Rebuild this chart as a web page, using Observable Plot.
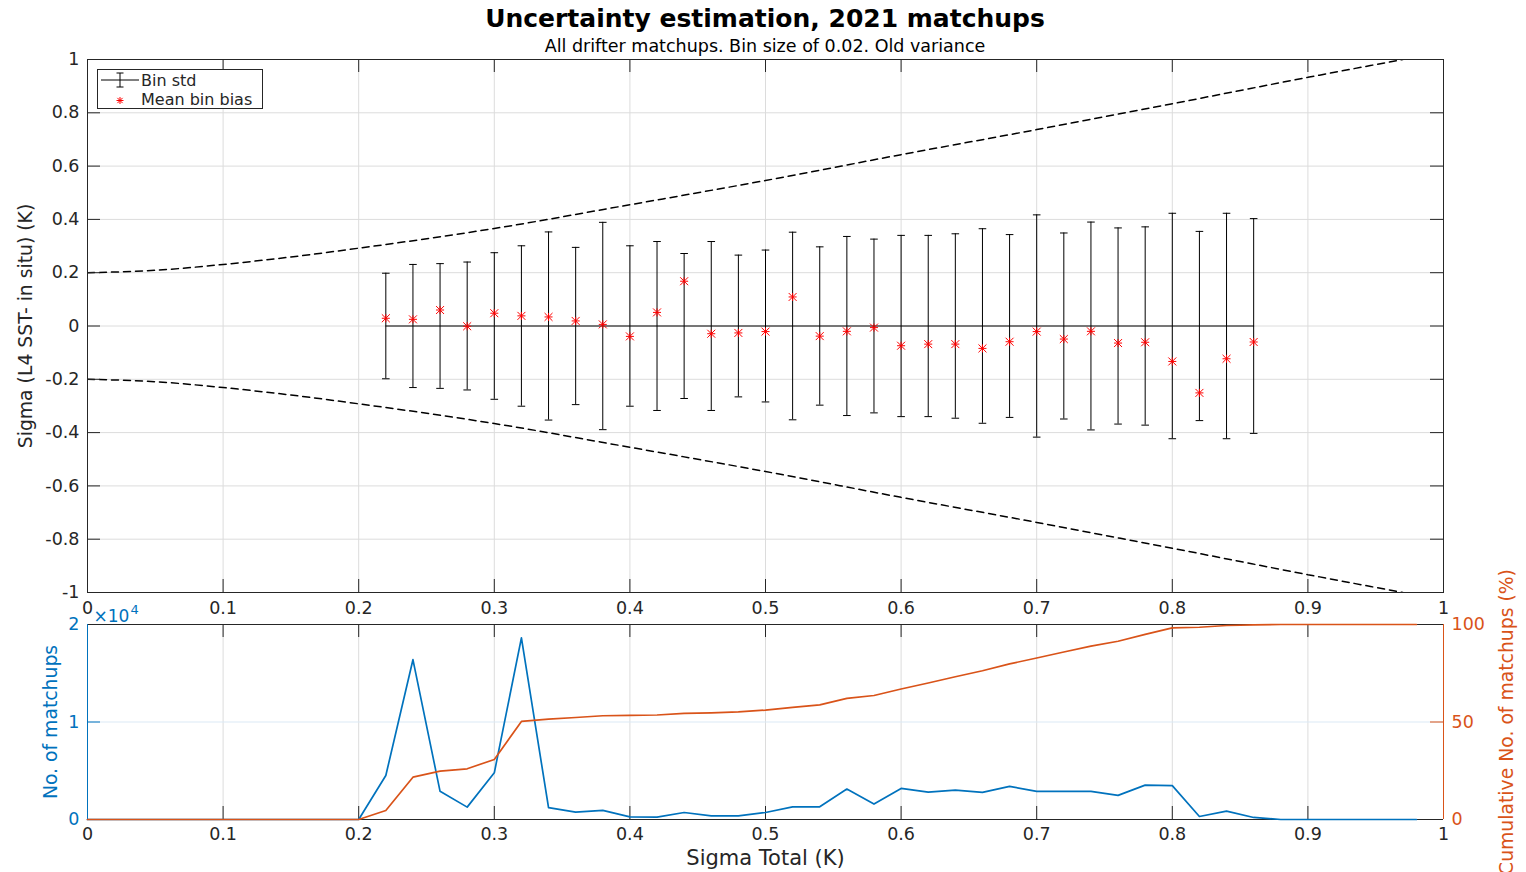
<!DOCTYPE html>
<html>
<head>
<meta charset="utf-8">
<script src="https://cdn.jsdelivr.net/npm/d3@7"></script>
<script src="https://cdn.jsdelivr.net/npm/@observablehq/plot@0.6"></script>
<style>
  html, body { margin: 0; padding: 0; background: #fff; overflow: hidden; }
  body { width: 1526px; height: 872px; position: relative; font-family: "DejaVu Sans", sans-serif; }
  .abs { position: absolute; }
  #title { left: 0; width: 1530px; top: 6px; text-align: center; font-weight: bold; font-size: 25px; color: #000; line-height: 1; }
  #subtitle { left: 0; width: 1530px; top: 38px; text-align: center; font-size: 17.5px; color: #000; line-height: 1; }
  #top, #bottom { left: 0; }
  #top { top: 0; }
  #bottom { top: 596px; }
  #legend { left: 97px; top: 69px; }
</style>
</head>
<body>
<div id="top" class="abs"></div>
<div id="bottom" class="abs"></div>
<div id="title" class="abs">Uncertainty estimation, 2021 matchups</div>
<div id="subtitle" class="abs">All drifter matchups. Bin size of 0.02. Old variance</div>
<div id="legend" class="abs"></div>
<script>
// ---------- data ----------
const xTicks = [0, 0.1, 0.2, 0.3, 0.4, 0.5, 0.6, 0.7, 0.8, 0.9, 1];
const yTicksTop = [-1, -0.8, -0.6, -0.4, -0.2, 0, 0.2, 0.4, 0.6, 0.8, 1];
const yTicksCount = [0, 10000, 20000];

// bins of sigma total (K)
const binX = [0.22, 0.24, 0.26, 0.28, 0.30, 0.32, 0.34, 0.36, 0.38, 0.40, 0.42, 0.44, 0.46, 0.48, 0.50, 0.52,
  0.54, 0.56, 0.58, 0.60, 0.62, 0.64, 0.66, 0.68, 0.70, 0.72, 0.74, 0.76, 0.78, 0.80, 0.82, 0.84, 0.86];
const binStd = [0.198, 0.231, 0.234, 0.240, 0.275, 0.301, 0.353, 0.295, 0.389, 0.301, 0.317, 0.272, 0.317, 0.266, 0.285, 0.352,
  0.297, 0.336, 0.326, 0.340, 0.340, 0.346, 0.365, 0.343, 0.417, 0.349, 0.390, 0.368, 0.372, 0.423, 0.355, 0.423, 0.403];
const binBias = [0.029, 0.025, 0.060, -0.001, 0.048, 0.038, 0.034, 0.019, 0.006, -0.039, 0.051, 0.168, -0.029, -0.026, -0.021, 0.109,
  -0.038, -0.020, -0.006, -0.074, -0.068, -0.068, -0.084, -0.059, -0.021, -0.049, -0.020, -0.064, -0.061, -0.133, -0.251, -0.123, -0.060];

// dashed envelope
const envX = [0, 0.05, 0.1, 0.15, 0.2, 0.3, 0.4, 0.5, 0.6, 0.7, 0.8, 0.9, 0.97];
const envY = [0.200, 0.209, 0.231, 0.259, 0.292, 0.366, 0.455, 0.546, 0.643, 0.737, 0.834, 0.933, 1.000];

// histogram
const histX = [0, 0.02, 0.04, 0.06, 0.08, 0.10, 0.12, 0.14, 0.16, 0.18, 0.20, 0.22, 0.24, 0.26, 0.28, 0.30, 0.32, 0.34, 0.36, 0.38,
  0.40, 0.42, 0.44, 0.46, 0.48, 0.50, 0.52, 0.54, 0.56, 0.58, 0.60, 0.62, 0.64, 0.66, 0.68, 0.70, 0.72, 0.74, 0.76, 0.78,
  0.80, 0.82, 0.84, 0.86, 0.88, 0.90, 0.92, 0.94, 0.96, 0.98];
const histCount = [0, 0, 0, 0, 0, 0, 0, 0, 0, 0, 0, 4510, 16390, 2890, 1270, 4790, 18620, 1210, 760, 930,
  270, 240, 720, 380, 380, 720, 1300, 1300, 3120, 1580, 3190, 2810, 3020, 2780, 3400, 2880, 2880, 2880, 2470, 3530,
  3470, 310, 860, 210, 0, 0, 0, 0, 0, 0];
const histCum = [0, 0, 0, 0, 0, 0, 0, 0, 0, 0, 0, 4.6, 21.7, 24.8, 26.0, 30.8, 50.3, 51.5, 52.3, 53.2,
  53.4, 53.6, 54.4, 54.7, 55.2, 56.1, 57.5, 58.8, 62.1, 63.6, 66.9, 70.0, 73.2, 76.3, 79.8, 82.8, 85.9, 88.9, 91.4, 94.9,
  98.3, 98.6, 99.5, 99.8, 100, 100, 100, 100, 100, 100];

// ---------- tables ----------
const bins = binX.map((x, i) => ({x, std: binStd[i], bias: binBias[i]}));
const env = envX.map((x, i) => ({x, y: envY[i]}));
const hist = histX.map((x, i) => ({x, count: histCount[i], cum: histCum[i]}));

const INK = "#262626", BLUE = "#0072BD", ORANGE = "#D95319", GRID = "#dcdcdc";
const FONT = "DejaVu Sans";
const W = 1526, ML = 87, MR = 83;
const innerW = W - ML - MR;
const capHalf = 0.0028;
const fmt1 = d => String(Math.round(d * 10) / 10);

// ---------- top chart ----------
const topH = 625, topMT = 59, topMB = 33;
const topInnerH = topH - topMT - topMB;
const topPlot = Plot.plot({
  width: W, height: topH,
  marginTop: topMT, marginBottom: topMB, marginLeft: ML, marginRight: MR,
  style: {background: "none", overflow: "visible", fontFamily: FONT},
  x: {domain: [0, 1]},
  y: {domain: [-1, 1]},
  marks: [
    Plot.ruleX(xTicks.slice(1, -1), {x: d => d, stroke: GRID}),
    Plot.ruleY(yTicksTop.slice(1, -1), {y: d => d, stroke: GRID}),
    Plot.line(env, {x: "x", y: "y", stroke: "#000", strokeWidth: 1.5, strokeDasharray: "7,5", curve: "monotone-x", clip: true}),
    Plot.line(env, {x: "x", y: d => -d.y, stroke: "#000", strokeWidth: 1.5, strokeDasharray: "7,5", curve: "monotone-x", clip: true}),
    Plot.line(bins, {x: "x", y: () => 0, stroke: "#000", strokeWidth: 1}),
    Plot.ruleX(bins, {x: "x", y1: d => -d.std, y2: d => d.std, stroke: "#000", strokeWidth: 1}),
    Plot.link(bins, {x1: d => d.x - capHalf, x2: d => d.x + capHalf, y1: "std", y2: "std", stroke: "#000", strokeWidth: 1}),
    Plot.link(bins, {x1: d => d.x - capHalf, x2: d => d.x + capHalf, y1: d => -d.std, y2: d => -d.std, stroke: "#000", strokeWidth: 1}),
    Plot.dot(bins, {x: "x", y: "bias", symbol: "plus", r: 2.7, stroke: "#ff0000", strokeWidth: 1}),
    Plot.dot(bins, {x: "x", y: "bias", symbol: "times", r: 3.7, stroke: "#ff0000", strokeWidth: 1}),
    // inward ticks
    Plot.tickX(xTicks, {x: d => d, insetTop: topInnerH - 13, stroke: INK}),
    Plot.tickX(xTicks, {x: d => d, insetBottom: topInnerH - 13, stroke: INK}),
    Plot.tickY(yTicksTop, {y: d => d, insetRight: innerW - 13, stroke: INK}),
    Plot.tickY(yTicksTop, {y: d => d, insetLeft: innerW - 13, stroke: INK}),
    Plot.frame({stroke: INK}),
    Plot.axisX({ticks: xTicks, tickSize: 0, tickPadding: 9, fontSize: 17.5, tickFormat: fmt1, color: INK, label: null}),
    Plot.axisY({ticks: yTicksTop, tickSize: 0, tickPadding: 8, fontSize: 17.5, tickFormat: fmt1, color: INK, label: null}),
    Plot.axisY({ticks: [], tickSize: 0, label: "Sigma (L4 SST- in situ) (K)", labelAnchor: "center", labelOffset: 69, labelArrow: "none", fontSize: 18.8, color: INK})
  ]
});
document.getElementById("top").appendChild(topPlot);

// ---------- bottom chart ----------
const botH = 276, botMT = 28, botMB = 53;
const botInnerH = botH - botMT - botMB;
const pctToCount = 200; // 100 % <-> 2x10^4 on the shared axis
const botPlot = Plot.plot({
  width: W, height: botH,
  marginTop: botMT, marginBottom: botMB, marginLeft: ML, marginRight: MR,
  style: {background: "none", overflow: "visible", fontFamily: FONT},
  x: {domain: [0, 1]},
  y: {domain: [0, 20000]},
  marks: [
    Plot.ruleX(xTicks.slice(1, -1), {x: d => d, stroke: GRID}),
    Plot.ruleY([10000], {y: d => d, stroke: "#dbe9f5"}),
    Plot.tickX(xTicks, {x: d => d, insetTop: botInnerH - 13, stroke: INK}),
    Plot.tickX(xTicks, {x: d => d, insetBottom: botInnerH - 13, stroke: INK}),
    Plot.tickY(yTicksCount, {y: d => d, insetRight: innerW - 13, stroke: BLUE}),
    Plot.tickY(yTicksCount, {y: d => d, insetLeft: innerW - 13, stroke: ORANGE}),
    Plot.ruleY([0, 20000], {y: d => d, stroke: INK}),
    Plot.ruleX([0], {x: d => d, stroke: BLUE}),
    Plot.ruleX([1], {x: d => d, stroke: ORANGE}),
    Plot.line(hist, {x: "x", y: "count", stroke: BLUE, strokeWidth: 1.7}),
    Plot.line(hist, {x: "x", y: d => d.cum * pctToCount, stroke: ORANGE, strokeWidth: 1.7}),
    Plot.axisX({ticks: xTicks, tickSize: 0, tickPadding: 8, fontSize: 17.5, tickFormat: fmt1, color: INK, label: null}),
    Plot.axisX({ticks: [], tickSize: 0, label: "Sigma Total (K)", labelAnchor: "center", labelOffset: 45, labelArrow: "none", fontSize: 21, color: INK}),
    Plot.axisY({ticks: yTicksCount, tickSize: 0, tickPadding: 8, fontSize: 17.5, tickFormat: d => String(d / 10000), color: BLUE, label: null}),
    Plot.axisY({ticks: [], tickSize: 0, label: "No. of matchups", labelAnchor: "center", labelOffset: 44, labelArrow: "none", fontSize: 18.8, color: BLUE}),
    Plot.axisY({anchor: "right", ticks: yTicksCount, tickSize: 0, tickPadding: 8, fontSize: 17.5, tickFormat: d => String(d / pctToCount), color: ORANGE, label: null}),
    Plot.axisY({anchor: "right", ticks: [], tickSize: 0, label: "Cumulative No. of matchups (%)", labelAnchor: "center", labelOffset: 69, labelArrow: "none", fontSize: 18.8, color: ORANGE}),
    Plot.text(["×10"], {text: d => d, frameAnchor: "top-left", textAnchor: "start", lineAnchor: "bottom", dx: 6, dy: -3, fontSize: 17, fill: BLUE}),
    Plot.text(["4"], {text: d => d, frameAnchor: "top-left", textAnchor: "start", lineAnchor: "bottom", dx: 43, dy: -11, fontSize: 13, fill: BLUE})
  ]
});
document.getElementById("bottom").appendChild(botPlot);

// ---------- legend ----------
const ns = "http://www.w3.org/2000/svg";
const leg = document.createElementNS(ns, "svg");
leg.setAttribute("width", 167); leg.setAttribute("height", 40);
leg.innerHTML = `
  <rect x="0.5" y="0.5" width="165" height="39" fill="#fff" stroke="${INK}" stroke-width="1"/>
  <line x1="4" y1="11" x2="42" y2="11" stroke="#000"/>
  <line x1="23" y1="4" x2="23" y2="18" stroke="#000"/>
  <line x1="19.5" y1="4" x2="26.5" y2="4" stroke="#000"/>
  <line x1="19.5" y1="18" x2="26.5" y2="18" stroke="#000"/>
  <text x="44" y="16.5" font-family="${FONT}" font-size="16" fill="${INK}">Bin std</text>
  <g stroke="#ff0000" stroke-width="1" transform="translate(23,31.5)">
    <line x1="-3.5" y1="0" x2="3.5" y2="0"/><line x1="0" y1="-3.5" x2="0" y2="3.5"/>
    <line x1="-2.6" y1="-2.6" x2="2.6" y2="2.6"/><line x1="-2.6" y1="2.6" x2="2.6" y2="-2.6"/>
  </g>
  <text x="44" y="35.5" font-family="${FONT}" font-size="16" fill="${INK}">Mean bin bias</text>`;
document.getElementById("legend").appendChild(leg);
</script>
</body>
</html>
